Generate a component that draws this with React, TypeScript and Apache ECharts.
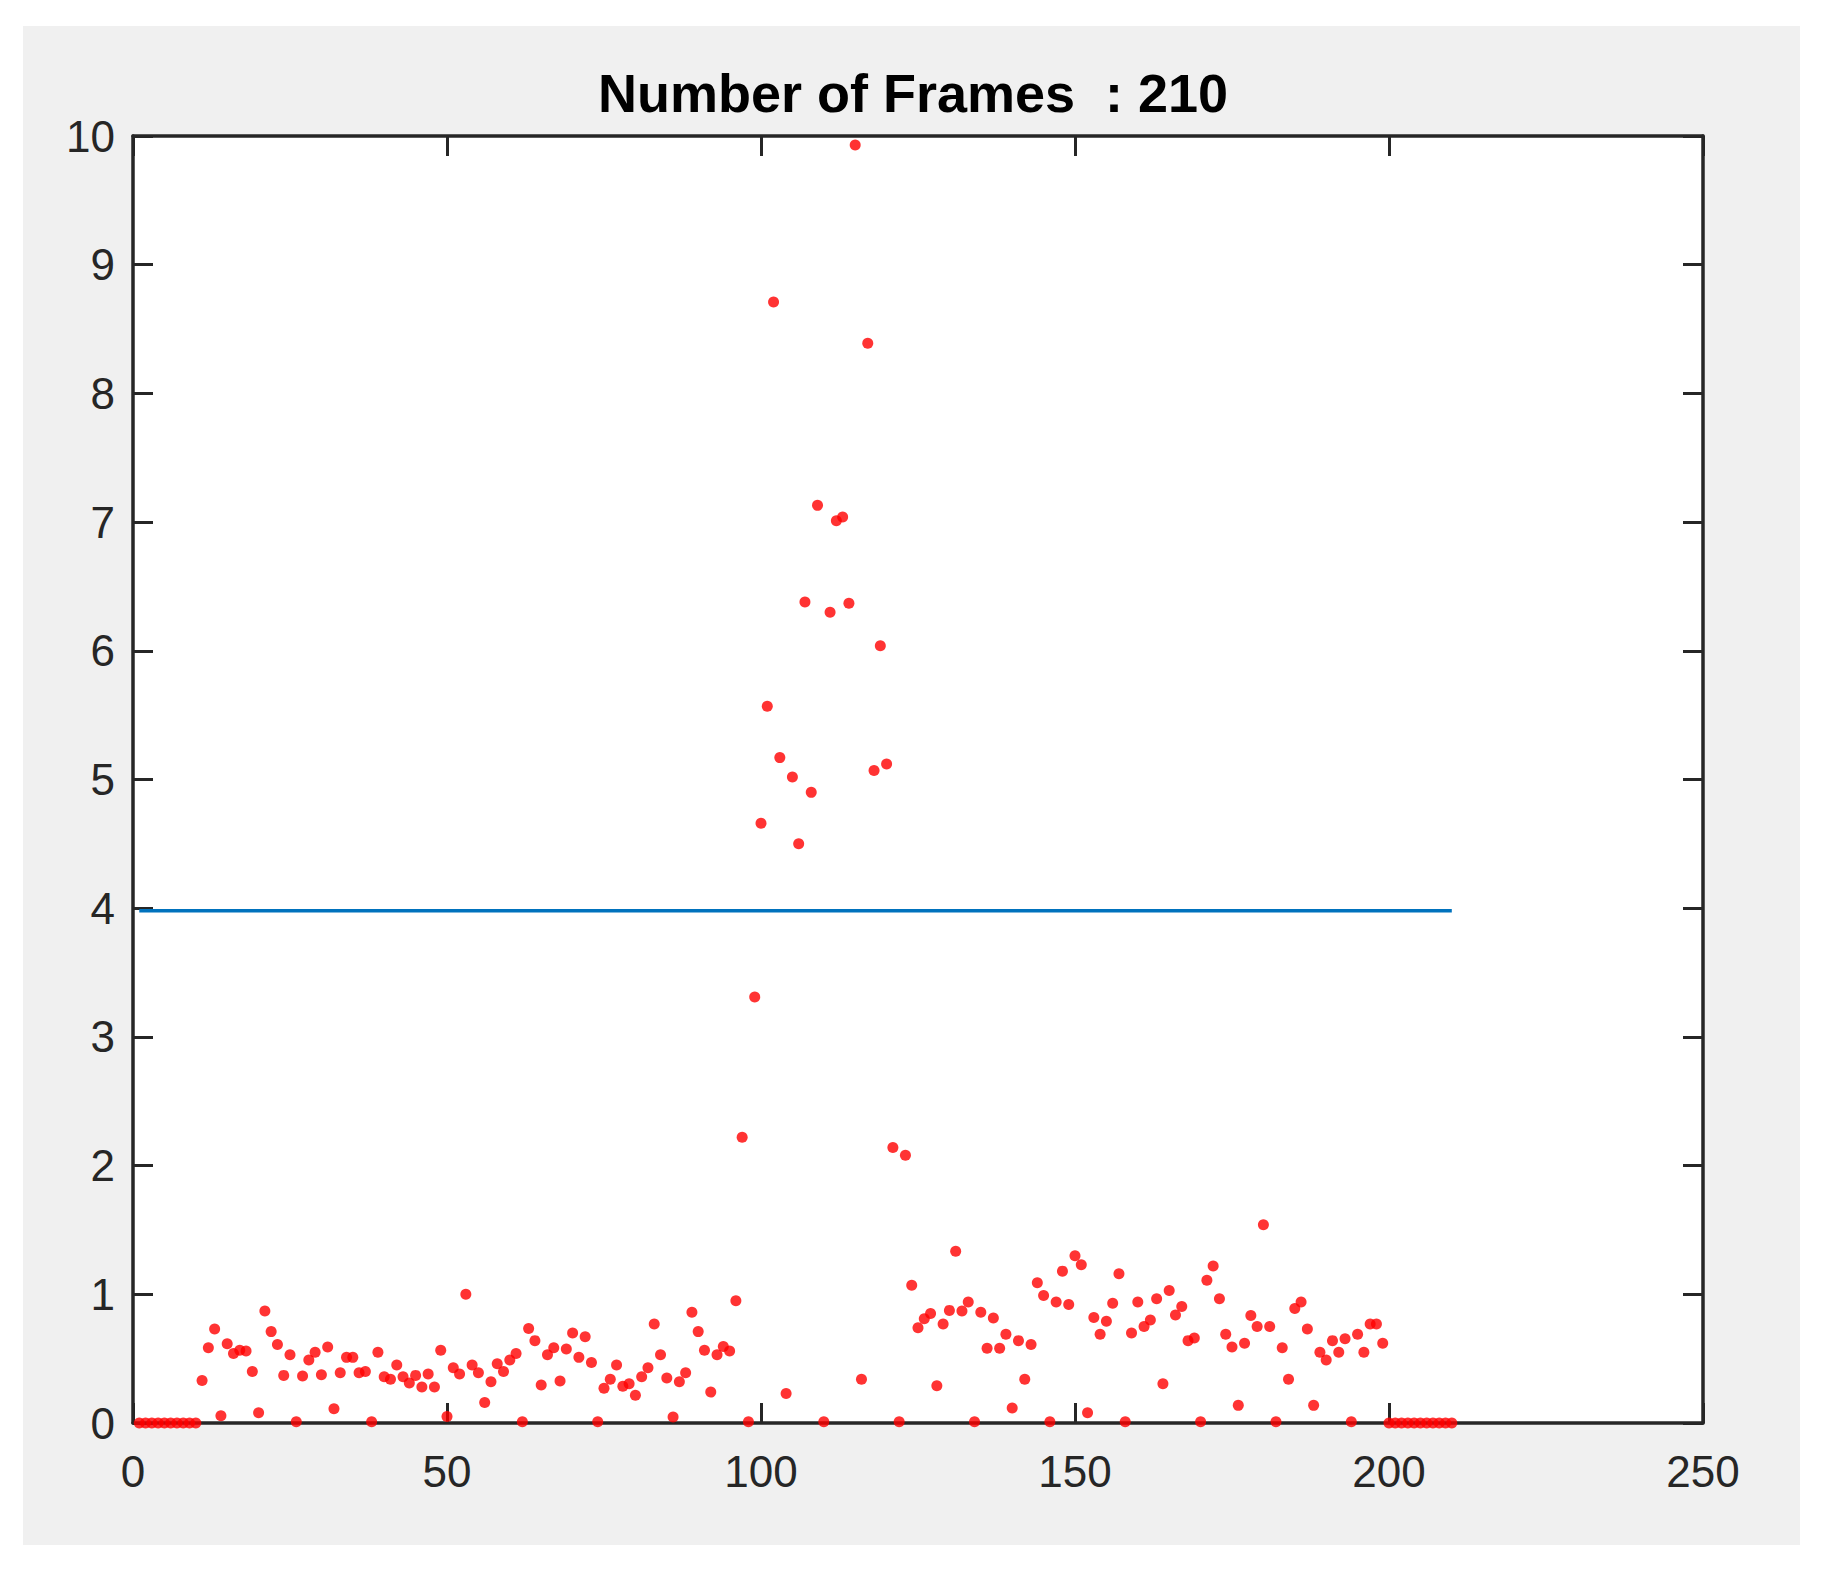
import React, { useEffect, useRef } from "react";
import * as echarts from "echarts";

// Frame-by-frame values (frame 1..210)
const FRAME_VALUES: number[] = [
  0, 0, 0, 0, 0, 0, 0, 0, 0, 0,
  0.33, 0.585, 0.73, 0.057, 0.616, 0.54, 0.565, 0.56, 0.4, 0.08,
  0.87, 0.71, 0.61, 0.37, 0.53, 0.01, 0.365, 0.49, 0.55, 0.375,
  0.59, 0.11, 0.39, 0.51, 0.51, 0.39, 0.4, 0.01, 0.55, 0.36,
  0.34, 0.45, 0.36, 0.31, 0.37, 0.28, 0.38, 0.28, 0.565, 0.05,
  0.43, 0.38, 1.0, 0.45, 0.39, 0.16, 0.32, 0.46, 0.4, 0.49,
  0.54, 0.01, 0.735, 0.64, 0.295, 0.53, 0.585, 0.326, 0.575, 0.7,
  0.51, 0.67, 0.47, 0.01, 0.27, 0.34, 0.45, 0.285, 0.305, 0.215,
  0.36, 0.43, 0.77, 0.53, 0.35, 0.047, 0.32, 0.39, 0.86, 0.71,
  0.565, 0.24, 0.53, 0.595, 0.56, 0.95, 2.22, 0.01, 3.31, 4.66,
  5.57, 8.71, 5.17, 0.23, 5.02, 4.5, 6.38, 4.9, 7.13, 0.01,
  6.3, 7.01, 7.04, 6.37, 9.93, 0.34, 8.39, 5.07, 6.04, 5.12,
  2.14, 0.01, 2.08, 1.07, 0.74, 0.81, 0.85, 0.29, 0.77, 0.875,
  1.335, 0.87, 0.94, 0.01, 0.86, 0.58, 0.815, 0.58, 0.69, 0.116,
  0.64, 0.34, 0.61, 1.09, 0.99, 0.01, 0.94, 1.18, 0.92, 1.3,
  1.23, 0.08, 0.82, 0.69, 0.79, 0.93, 1.16, 0.01, 0.7, 0.94,
  0.75, 0.8, 0.965, 0.305, 1.03, 0.84, 0.905, 0.64, 0.66, 0.01,
  1.11, 1.22, 0.965, 0.69, 0.59, 0.137, 0.62, 0.835, 0.75, 1.54,
  0.75, 0.01, 0.585, 0.34, 0.89, 0.94, 0.73, 0.137, 0.55, 0.49,
  0.64, 0.55, 0.655, 0.01, 0.69, 0.55, 0.77, 0.77, 0.62, 0,
  0, 0, 0, 0, 0, 0, 0, 0, 0, 0,
];

const THRESHOLD = 3.98;
const THRESHOLD_START = 1;
const THRESHOLD_END = 210;
const TITLE = "Number of Frames  : 210";
const X_TICKS = [0, 50, 100, 150, 200, 250];
const Y_TICKS = [0, 1, 2, 3, 4, 5, 6, 7, 8, 9, 10];

const AXIS_COLOR = "#262626";
const FONT = "'Liberation Sans', Arial, Helvetica, sans-serif";

export default function App() {
  const ref = useRef<HTMLDivElement>(null);

  useEffect(() => {
    if (!ref.current) return;
    const chart = echarts.init(ref.current, undefined, { renderer: "svg" });

    const scatterData = FRAME_VALUES.map((v, i) => [i + 1, v]);
    const xMin = X_TICKS[0];
    const xMax = X_TICKS[X_TICKS.length - 1];
    const xInt = X_TICKS[1] - X_TICKS[0];
    const yMin = Y_TICKS[0];
    const yMax = Y_TICKS[Y_TICKS.length - 1];
    const yInt = Y_TICKS[1] - Y_TICKS[0];

    const tick = { show: true, inside: true, length: 20, lineStyle: { color: AXIS_COLOR, width: 3 } };
    const line = { show: true, onZero: false, lineStyle: { color: AXIS_COLOR, width: 3.5 } };
    const label = { color: AXIS_COLOR, fontSize: 44, fontFamily: FONT };

    chart.setOption({
      animation: false,
      backgroundColor: "#ffffff",
      graphic: [
        {
          type: "rect",
          z: -10,
          silent: true,
          shape: { x: 23, y: 26, width: 1777, height: 1519 },
          style: { fill: "#f0f0f0" },
        },
      ],
      title: {
        text: TITLE,
        left: "center",
        top: 61,
        textStyle: { fontSize: 54, fontWeight: "bold", color: "#000000", fontFamily: FONT },
      },
      grid: {
        left: 133,
        right: 123,
        top: 136,
        bottom: 151,
        show: true,
        backgroundColor: "#ffffff",
        borderWidth: 0,
      },
      xAxis: [
        {
          type: "value",
          min: xMin,
          max: xMax,
          interval: xInt,
          position: "bottom",
          axisLine: line,
          axisTick: tick,
          splitLine: { show: false },
          axisLabel: { ...label, margin: 26 },
        },
        {
          type: "value",
          min: xMin,
          max: xMax,
          interval: xInt,
          position: "top",
          axisLine: line,
          axisTick: tick,
          splitLine: { show: false },
          axisLabel: { show: false },
        },
      ],
      yAxis: [
        {
          type: "value",
          min: yMin,
          max: yMax,
          interval: yInt,
          position: "left",
          axisLine: line,
          axisTick: tick,
          splitLine: { show: false },
          axisLabel: { ...label, margin: 18 },
        },
        {
          type: "value",
          min: yMin,
          max: yMax,
          interval: yInt,
          position: "right",
          axisLine: line,
          axisTick: tick,
          splitLine: { show: false },
          axisLabel: { show: false },
        },
      ],
      series: [
        {
          type: "line",
          xAxisIndex: 0,
          yAxisIndex: 0,
          data: [
            [THRESHOLD_START, THRESHOLD],
            [THRESHOLD_END, THRESHOLD],
          ],
          symbol: "none",
          lineStyle: { color: "#0072BD", width: 3.5 },
          z: 3,
        },
        {
          type: "scatter",
          xAxisIndex: 0,
          yAxisIndex: 0,
          data: scatterData,
          symbol: "circle",
          symbolSize: 11,
          clip: false,
          itemStyle: { color: "#ff0000" },
          z: 4,
        },
      ],
    });

    return () => {
      chart.dispose();
    };
  }, []);

  return (
    <div
      ref={ref}
      style={{ position: "absolute", left: 0, top: 0, width: 1826, height: 1574 }}
    />
  );
}
